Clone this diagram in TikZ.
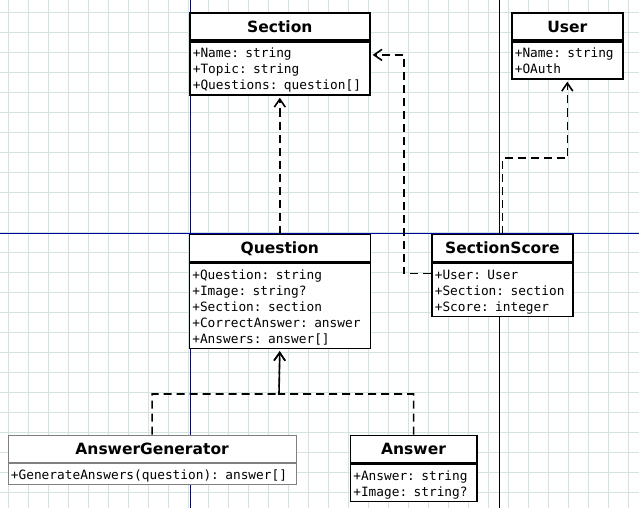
\documentclass[tikz,border=0pt]{standalone}
\usepackage{fontspec}
\newfontfamily\fuenteMono{DejaVu Sans Mono}
\newfontfamily\fuenteTit{DejaVu Sans}
\usepackage{tikz}
\usetikzlibrary{arrows.meta, positioning, calc}

\definecolor{grilla}{RGB}{210,228,226}
\definecolor{guia}{RGB}{0,0,160}

\tikzset{
  cabecera/.style={draw, fill=white, line width=1.6pt, anchor=north west, minimum width=#1,
    minimum height=27.5pt, inner sep=0pt, text height=11.5pt, text depth=0pt,
    font=\fuenteTit\bfseries\fontsize{15.5}{18}\selectfont},
  cuerpo/.style={draw, fill=white, line width=1.6pt, anchor=north west, text width=#1,
    align=left, inner xsep=3pt, inner ysep=0pt, font=\fuenteMono\fontsize{12.8}{16}\selectfont,
    execute at begin node=\rule{0pt}{16pt}, execute at end node=\rule[-5pt]{0pt}{5pt}},
  dep/.style={line width=1.6pt, dash pattern=on 8pt off 5pt, shorten >=2pt,
    -{Straight Barb[length=8pt,width=11pt]}},
  tenue/.style={draw=gray, line width=0.8pt}
}

\begin{document}
\begin{tikzpicture}[x=1pt, y=-1pt]
        \useasboundingbox (0,0) rectangle (639,508);
        % Cuadricula de fondo
        \foreach \x in {0,...,31} {
            \draw[grilla, line width=0.8pt] (8.5+20*\x,0) -- (8.5+20*\x,508);
        }
        \foreach \y in {0,...,24} {
            \draw[grilla, line width=0.8pt] (0,12.5+20*\y) -- (639,12.5+20*\y);
        }
        % Lineas guia
        \draw[guia, line width=0.8pt] (190.5,0) -- (190.5,508);
        \draw[guia, line width=0.8pt] (0,233.5) -- (639,233.5);
        \draw[line width=0.8pt] (499,0) -- (499,508);
        % Clases
        \node[cabecera=180pt] (sec) at (189,12) {Section};
        \node[cuerpo=174pt] (secAtr) at (sec.south west) {+Name: string\\+Topic: string\\+Questions: question[]};
        \node[cabecera=111pt] (usr) at (511,12) {User};
        \node[cuerpo=105pt] (usrAtr) at (usr.south west) {+Name: string\\+OAuth};
        \node[cabecera=181pt] (pre) at (188.5,233.5) {Question};
        \node[cuerpo=175pt] (preAtr) at (pre.south west) {+Question: string\\+Image: string?\\+Section: section\\+CorrectAnswer: answer\\+Answers: answer[]};
        \node[cabecera=141pt] (pun) at (431,233.5) {SectionScore};
        \node[cuerpo=135pt] (punAtr) at (pun.south west) {+User: User\\+Section: section\\+Score: integer};
        \node[cabecera=288.5pt, tenue] (gen) at (7.5,434.5) {AnswerGenerator};
        \node[cuerpo=282.5pt, tenue] (genAtr) at (gen.south west) {+GenerateAnswers(question): answer[]};
        \node[cabecera=126.5pt] (res) at (349.5,434.5) {Answer};
        \node[cuerpo=120.5pt] (resAtr) at (res.south west) {+Answer: string\\+Image: string?};
        % Dependencias
        \coordinate (union) at (279,394);
        \draw[dep] (pre.north) -- (secAtr.south);
        \draw[dep] ([yshift=-11pt]punAtr.north west) -- ++(-27,0) |- ([yshift=13.5pt]secAtr.east);
        \draw[dep] (pun.north) -- ++(0,-75.5) -| (usrAtr.south);
        \draw[dep] (gen.north) |- (union) -- (preAtr.south);
        \draw[dep] (res.north) |- (union) -- (preAtr.south);
    \end{tikzpicture}
\end{document}
